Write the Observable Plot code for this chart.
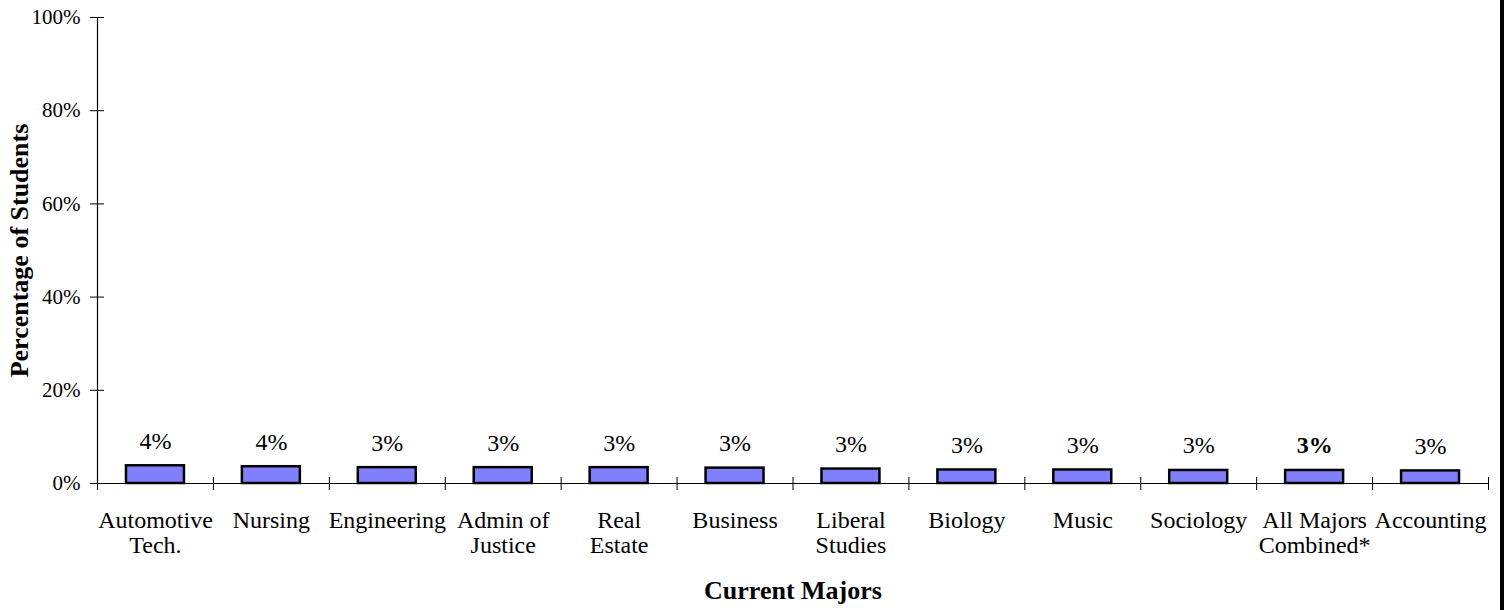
<!DOCTYPE html>
<html>
<head>
<meta charset="utf-8">
<script src="https://cdn.jsdelivr.net/npm/d3@7"></script>
<script src="https://cdn.jsdelivr.net/npm/@observablehq/plot@0.6"></script>
<style>
  html, body { margin: 0; padding: 0; background: white; }
  #wrap { width: 1500px; border-right: 4px solid black; height: 610px; overflow: hidden; }
</style>
</head>
<body>
<div id="wrap"></div>
<script>
const categories = ["Automotive Tech.", "Nursing", "Engineering", "Admin of Justice", "Real Estate", "Business", "Liberal Studies", "Biology", "Music", "Sociology", "All Majors Combined*", "Accounting"];
const tickLabels = ["Automotive\nTech.", "Nursing", "Engineering", "Admin of\nJustice", "Real\nEstate", "Business", "Liberal\nStudies", "Biology", "Music", "Sociology", "All Majors\nCombined*", "Accounting"];
const values = [3.8, 3.6, 3.4, 3.4, 3.4, 3.3, 3.1, 2.9, 2.9, 2.8, 2.8, 2.7];
const valueLabels = ["4%", "4%", "3%", "3%", "3%", "3%", "3%", "3%", "3%", "3%", "3%", "3%"];
const highlight = "All Majors Combined*";
const yTicks = [0, 20, 40, 60, 80, 100];
const yTitle = "Percentage of Students";
const xTitle = "Current Majors";

const data = categories.map((c, i) => ({category: c, value: values[i], label: valueLabels[i]}));

const W = 1500, H = 610, ML = 97, MR = 12, MT = 17, MB = 127;
const step = (W - ML - MR) / categories.length;
const font = "'Liberation Serif', 'Times New Roman', serif";

const chart = Plot.plot({
  width: W, height: H,
  marginLeft: ML, marginRight: MR, marginTop: MT, marginBottom: MB,
  style: {fontFamily: font, fontSize: "24px", color: "black", background: "white", overflow: "visible"},
  x: {domain: categories, paddingInner: 0.5, paddingOuter: 0.25, round: false, label: null},
  y: {domain: [0, 100], label: null},
  marks: [
    Plot.barY(data, {x: "category", y: "value", fill: "#8080ff", stroke: "black", strokeWidth: 2.5}),
    Plot.ruleY([0], {stroke: "black", strokeWidth: 1.2}),
    Plot.ruleX([categories[0]], {x: d => d, y1: 0, y2: 100, dx: -step / 2, stroke: "black", strokeWidth: 1.2}),
    Plot.ruleX(categories, {x: d => d, y1: 0, y2: 0, insetTop: -6, insetBottom: -7, dx: -step / 2, stroke: "black", strokeWidth: 1}),
    Plot.ruleX([categories[categories.length - 1]], {x: d => d, y1: 0, y2: 0, insetTop: -6, insetBottom: -7, dx: step / 2, stroke: "black", strokeWidth: 1}),
    Plot.axisY(yTicks, {tickSize: 14, dx: 7, tickPadding: 10, tickFormat: d => d + "%", fontSize: 21, stroke: "black", strokeWidth: 1}),
    Plot.axisX({tickSize: 0, tickPadding: 27, tickFormat: (d) => tickLabels[categories.indexOf(d)], lineHeight: 1.04, fontSize: 24}),
    Plot.text(data.filter(d => d.category !== highlight), {x: "category", y: "value", text: "label", lineAnchor: "bottom", dy: -17, fontSize: 24}),
    Plot.text(data.filter(d => d.category === highlight), {x: "category", y: "value", text: "label", lineAnchor: "bottom", dy: -17, fontSize: 24, fontWeight: "bold"}),
    Plot.text([yTitle], {frameAnchor: "left", textAnchor: "middle", dx: -78, rotate: -90, fontWeight: "bold", fontSize: 26}),
    Plot.text([xTitle], {frameAnchor: "bottom", dy: 115, fontWeight: "bold", fontSize: 26})
  ]
});
document.getElementById("wrap").appendChild(chart);
</script>
</body>
</html>
